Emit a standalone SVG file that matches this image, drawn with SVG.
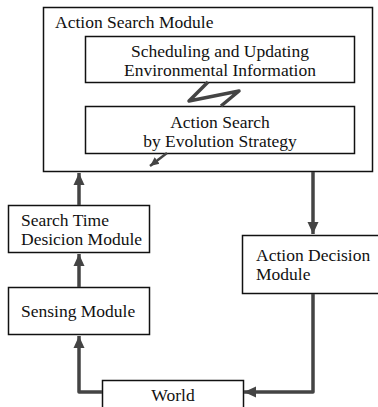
<svg xmlns="http://www.w3.org/2000/svg" width="378" height="407" viewBox="0 0 378 407">
<defs>
<marker id="ah" markerWidth="14" markerHeight="14" refX="12" refY="6" orient="auto" markerUnits="userSpaceOnUse">
<path d="M0,0.5 L12,6 L0,11.5 Z" fill="#444"/>
</marker>
<marker id="ahs" markerWidth="12" markerHeight="12" refX="9" refY="5" orient="auto" markerUnits="userSpaceOnUse">
<path d="M0,1 L9,5 L0,9 Z" fill="#444"/>
</marker>
</defs>
<style>
.box{fill:#fff;stroke:#111;stroke-width:1.5}
.t{font-family:"Liberation Serif","Times New Roman",serif;font-size:17.5px;fill:#111}
.c{stroke:#444;stroke-width:3.5;fill:none;stroke-linejoin:round}
</style>
<rect width="378" height="407" fill="#fff"/>
<g id="action-search-module">
<rect class="box" x="43.5" y="7.5" width="329" height="164"/>
<text class="t" x="55" y="28">Action Search Module</text>
</g>
<g id="scheduling">
<rect class="box" x="85.5" y="36.5" width="269" height="46"/>
<text class="t" x="220" y="57" text-anchor="middle">Scheduling and Updating</text>
<text class="t" x="220" y="76" text-anchor="middle">Environmental Information</text>
</g>
<g id="es-search">
<rect class="box" x="85.5" y="106.5" width="269" height="47"/>
<text class="t" x="220" y="128" text-anchor="middle">Action Search</text>
<text class="t" x="220" y="147" text-anchor="middle">by Evolution Strategy</text>
</g>
<g id="search-time">
<rect class="box" x="8.5" y="205.5" width="141" height="47"/>
<text class="t" x="21" y="225.5">Search Time</text>
<text class="t" x="21" y="244.5">Desicion Module</text>
</g>
<g id="sensing">
<rect class="box" x="8.5" y="287.5" width="141" height="47"/>
<text class="t" x="21" y="317">Sensing Module</text>
</g>
<g id="action-decision">
<rect class="box" x="242.5" y="235.5" width="140" height="58"/>
<text class="t" x="256" y="261">Action Decision</text>
<text class="t" x="256" y="280">Module</text>
</g>
<g id="world">
<rect class="box" x="102.5" y="380.5" width="141" height="40"/>
<text class="t" x="173" y="401" text-anchor="middle">World</text>
</g>
<g id="connectors">
<path class="c" d="M208,82 L189,101 L239,91 L221,106" stroke-width="4"/>
<path d="M167,153 L150,166" stroke="#444" stroke-width="2.5" marker-end="url(#ahs)"/>
<path class="c" d="M79,205 L79,173" marker-end="url(#ah)"/>
<path class="c" d="M79,287 L79,254" marker-end="url(#ah)"/>
<path class="c" d="M102,392 L79,392 L79,336" marker-end="url(#ah)"/>
<path class="c" d="M313,172 L313,234" marker-end="url(#ah)"/>
<path class="c" d="M313,294 L313,392 L244,392" marker-end="url(#ah)"/>
</g>
</svg>
